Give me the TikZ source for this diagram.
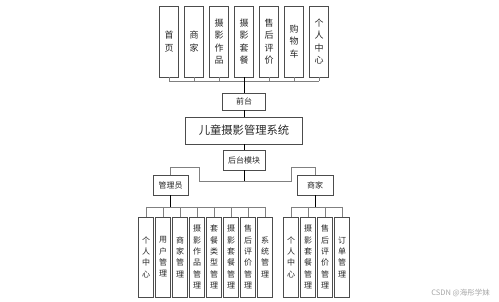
\documentclass[tikz,border=0pt]{standalone}
\usepackage{fontspec}
\setmainfont{Noto Sans CJK SC}
\begin{document}
\begin{tikzpicture}[x=1pt,y=-1pt,
    frame/.style={draw=black!70, line width=0.7pt, inner sep=0pt, align=center, text=black!85},
    tall/.style={frame, minimum width=19.5pt, minimum height=71pt, font=\fontsize{9}{12.5}\selectfont},
    slim/.style={frame, minimum width=14.5pt, minimum height=80pt, font=\fontsize{8}{11.3}\selectfont},
    tag/.style={frame, minimum height=19pt, font=\fontsize{8}{10}\selectfont},
    wire/.style={draw=black!50, line width=0.6pt},
    trunk/.style={draw=black, line width=0.8pt}]
  \useasboundingbox (0,0) rectangle (499,302);

  % front end pages
  \foreach \t [count=\i] in {{首\\页},{商\\家},{摄\\影\\作\\品},{摄\\影\\套\\餐},{售\\后\\评\\价},{购\\物\\车},{个\\人\\中\\心}}
    \node[tall] (t\i) at ({144+25*\i},41.5) {\t};
  \coordinate (topbus) at (0,81);
  \foreach \i in {1,...,7} \draw[wire] (t\i.south) -- (t\i.south |- topbus);
  \draw[wire] (t1.south |- topbus) -- (t7.south |- topbus);

  \node[tag, minimum width=43pt, minimum height=17pt] (front) at (244,101.5) {前台};
  \node[frame, minimum width=117pt, minimum height=27pt, font=\fontsize{11.3}{13}\selectfont] (sys) at (244,130.5) {儿童摄影管理系统};
  \node[tag, minimum width=42pt, minimum height=20pt] (back) at (244,160) {后台模块};

  \draw[trunk] (t4.south) -- (front.north);
  \draw[trunk] (front.south) -- (sys.north);
  \draw[trunk] (sys.south) -- (back.north);

  % back end roles
  \node[tag, minimum width=35pt, minimum height=20pt] (admin) at (170.5,185) {管理员};
  \node[tag, minimum width=36pt, minimum height=20pt] (shop) at (315,185) {商家};

  \coordinate (roleup) at (0,167);
  \coordinate (roledown) at (0,181);
  \draw[trunk] (back.south) -- (back.south |- roledown);
  \draw[wire] (admin.north) |- (199,167) -- (199,181) -- (291,181) -- (291,167) -| (shop.north);

  % admin functions
  \foreach \t [count=\i] in {{个\\人\\中\\心},{用\\户\\管\\理},{商\\家\\管\\理},{摄\\影\\作\\品\\管\\理},{套\\餐\\类\\型\\管\\理},{摄\\影\\套\\餐\\管\\理},{售\\后\\评\\价\\管\\理},{系\\统\\管\\理}}
    \node[slim] (a\i) at ({129+17*\i},257) {\t};
  \coordinate (abus) at (0,207);
  \draw[trunk] (admin.south) -- (admin.south |- abus);
  \foreach \i in {1,...,8} \draw[wire] (a\i.north |- abus) -- (a\i.north);
  \draw[wire] (a1.north |- abus) -- (a8.north |- abus);

  % shop functions
  \foreach \t [count=\i] in {{个\\人\\中\\心},{摄\\影\\套\\餐\\管\\理},{售\\后\\评\\价\\管\\理},{订\\单\\管\\理}}
    \node[slim] (m\i) at ({274+17*\i},257) {\t};
  \draw[trunk] (shop.south) -- (shop.south |- abus);
  \foreach \i in {1,...,4} \draw[wire] (m\i.north |- abus) -- (m\i.north);
  \draw[wire] (m1.north |- abus) -- (m4.north |- abus);

  \node[text=black!35, font=\fontsize{7.5}{9}\selectfont, anchor=east, inner sep=0pt] (mark) at (490,293) {CSDN @海彤学妹};
\end{tikzpicture}
\end{document}
